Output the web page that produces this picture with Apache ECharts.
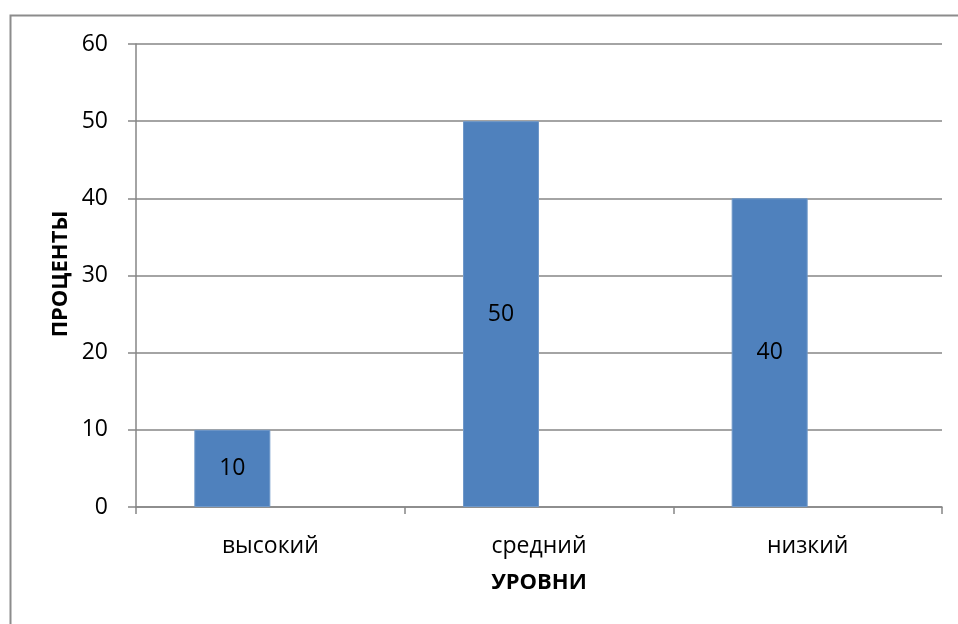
<!DOCTYPE html>
<html>
<head>
<meta charset="utf-8">
<script src="https://cdn.jsdelivr.net/npm/echarts@6/dist/echarts.min.js"></script>
<style>
  html, body { margin: 0; padding: 0; background: #fff; }
  #chart { width: 958px; height: 624px; }
</style>
</head>
<body>
<div id="chart"></div>
<script>
// уровни и проценты
const categories = ['высокий', 'средний', 'низкий'];
const percents = [10, 50, 40];
const emptySeries = [null, null, null]; // вторая (пустая) серия, как в Excel
const yTicks = { min: 0, max: 60, interval: 10 };

const FONT = '"Open Sans", "Noto Sans", sans-serif';
const GRID = { left: 136, right: 16, top: 44, bottom: 117 };

const chart = echarts.init(document.getElementById('chart'));

chart.setOption({
  animation: false,
  textStyle: { fontFamily: FONT },
  grid: GRID,
  graphic: [
    {
      // рамка диаграммы
      type: 'rect',
      shape: { x: 10.5, y: 15.5, width: 1000, height: 700 },
      style: { fill: 'none', stroke: '#8c8c8c', lineWidth: 2 },
      silent: true
    },
    {
      type: 'text',
      x: 61,
      y: 274,
      rotation: Math.PI / 2,
      style: {
        text: 'ПРОЦЕНТЫ',
        font: 'bold 22px ' + FONT,
        fill: '#000',
        x: 0,
        y: 0,
        align: 'center',
        verticalAlign: 'middle'
      },
      silent: true
    }
  ],
  xAxis: {
    type: 'category',
    data: categories,
    name: 'УРОВНИ',
    nameLocation: 'middle',
    nameGap: 65,
    nameTextStyle: { fontFamily: FONT, fontSize: 22, fontWeight: 'bold', color: '#000' },
    axisLine: { lineStyle: { color: '#868686', width: 1.5 } },
    axisTick: { show: true, length: 7, lineStyle: { color: '#868686', width: 1.5 } },
    axisLabel: { color: '#000', fontSize: 23, fontFamily: FONT, margin: 28 }
  },
  yAxis: {
    type: 'value',
    min: yTicks.min,
    max: yTicks.max,
    interval: yTicks.interval,
    axisLine: { show: true, lineStyle: { color: '#868686', width: 1.5 } },
    axisTick: { show: true, length: 8, lineStyle: { color: '#868686', width: 1.5 } },
    axisLabel: { color: '#000', fontSize: 23, fontFamily: FONT, margin: 28 },
    splitLine: { lineStyle: { color: '#868686', width: 1.5 } }
  },
  series: [
    {
      type: 'bar',
      data: percents,
      barWidth: 76,
      barGap: '0%',
      itemStyle: { color: '#4f81bd', borderColor: '#6f98c9', borderWidth: 1 },
      label: {
        show: true,
        position: 'inside',
        color: '#000',
        fontSize: 23,
        fontFamily: FONT
      }
    },
    {
      type: 'bar',
      data: emptySeries,
      barWidth: 76,
      barGap: '0%',
      itemStyle: { color: '#c0504d' }
    }
  ]
});
</script>
</body>
</html>
